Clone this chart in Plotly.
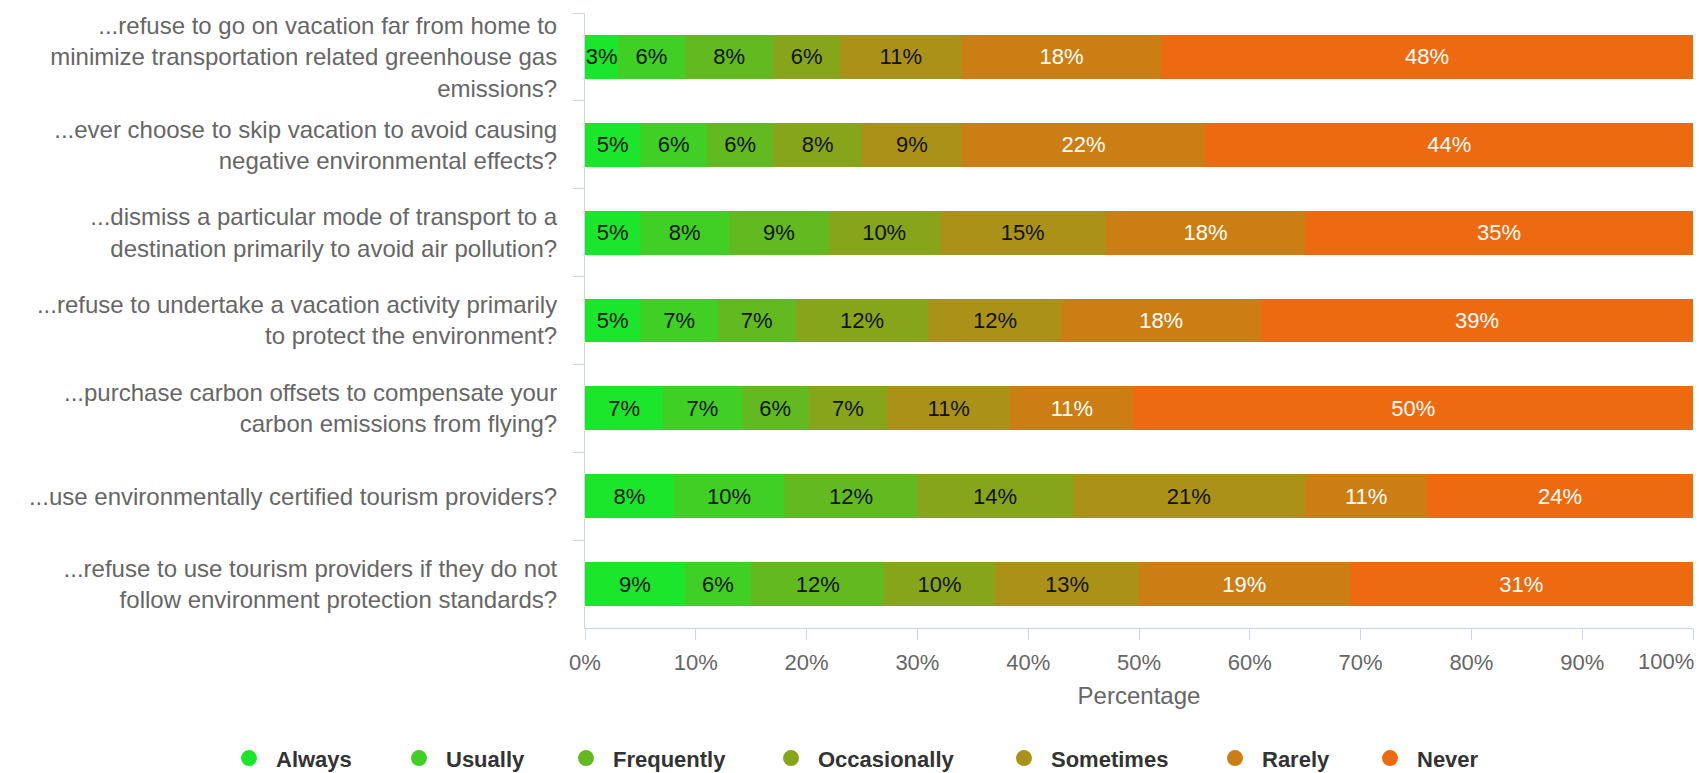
import plotly.graph_objects as go

# Survey questions (y categories, top to bottom)
questions = [
    "...refuse to go on vacation far from home to<br>minimize transportation related greenhouse gas<br>emissions?",
    "...ever choose to skip vacation to avoid causing<br>negative environmental effects?",
    "...dismiss a particular mode of transport to a<br>destination primarily to avoid air pollution?",
    "...refuse to undertake a vacation activity primarily<br>to protect the environment?",
    "...purchase carbon offsets to compensate your<br>carbon emissions from flying?",
    "...use environmentally certified tourism providers?",
    "...refuse to use tourism providers if they do not<br>follow environment protection standards?",
]

# Answer frequencies (percent of respondents)
always = [3, 5, 5, 5, 7, 8, 9]
usually = [6, 6, 8, 7, 7, 10, 6]
frequently = [8, 6, 9, 7, 6, 12, 12]
occasionally = [6, 8, 10, 12, 7, 14, 10]
sometimes = [11, 9, 15, 12, 11, 21, 13]
rarely = [18, 22, 18, 18, 11, 11, 19]
never = [48, 44, 35, 39, 50, 24, 31]

series_names = ["Always", "Usually", "Frequently", "Occasionally", "Sometimes", "Rarely", "Never"]
series_values = [always, usually, frequently, occasionally, sometimes, rarely, never]
series_colors = ["#1be62c", "#3fcf25", "#62b920", "#86a51b", "#a99217", "#ca7e13", "#ee6a10"]
label_colors = ["#111111", "#111111", "#111111", "#111111", "#111111", "#ffffff", "#ffffff"]

x_ticks = list(range(0, 101, 10))

FONT = "Liberation Sans, Arial, Helvetica, sans-serif"
W, H = 1699, 773

fig = go.Figure()

for name, vals, color, tcolor in zip(series_names, series_values, series_colors, label_colors):
    fig.add_trace(go.Bar(
        y=questions,
        x=vals,
        orientation="h",
        name=name,
        marker=dict(color=color, line=dict(width=0)),
        text=[f"{v}%" for v in vals],
        texttemplate="%{text}",
        textposition="inside",
        insidetextanchor="middle",
        textangle=0,
        constraintext="none",
        textfont=dict(family=FONT, size=22, color=tcolor),
        showlegend=False,
    ))

# One legend per series so the entries are spaced like a single row
legend_left = [222, 392, 559, 764, 997, 1208, 1363]
legend_layouts = {}
for i, (name, color) in enumerate(zip(series_names, series_colors)):
    key = "legend" if i == 0 else f"legend{i + 1}"
    fig.add_trace(go.Scatter(
        x=[None], y=[None], mode="markers", name=name,
        marker=dict(color=color, size=20, symbol="circle"),
        showlegend=True, legend=key,
    ))
    legend_layouts[key] = dict(
        orientation="h",
        xref="container", x=legend_left[i] / W, xanchor="left",
        yref="container", y=0.019, yanchor="middle",
        font=dict(family=FONT, size=22, color="#333333", weight="bold"),
        itemwidth=44,
        bgcolor="rgba(0,0,0,0)",
        borderwidth=0,
    )

fig.update_layout(
    width=W,
    height=H,
    autosize=False,
    barmode="stack",
    barnorm="percent",
    bargap=0.5,
    plot_bgcolor="white",
    paper_bgcolor="white",
    margin=dict(l=585, r=6, t=13, b=145),
    font=dict(family=FONT, color="#666666"),
    uniformtext=dict(minsize=22, mode="show"),
    xaxis=dict(
        range=[0, 100],
        tickvals=x_ticks,
        ticktext=[f"{t}%" if t < 100 else "" for t in x_ticks],
        showgrid=False,
        zeroline=False,
        showline=True,
        linecolor="#ccd6eb",
        linewidth=1,
        ticks="outside",
        ticklen=11,
        tickcolor="#ccd6eb",
        tickfont=dict(family=FONT, size=22, color="#666666"),
        ticklabelstandoff=4,
        title=dict(text="Percentage", font=dict(family=FONT, size=24, color="#666666"), standoff=12),
    ),
    yaxis=dict(
        autorange="reversed",
        showgrid=False,
        zeroline=False,
        showline=True,
        linecolor="#ccd6eb",
        linewidth=1,
        ticks="outside",
        tickson="boundaries",
        ticklen=11,
        tickcolor="#ccd6eb",
        tickfont=dict(family=FONT, size=24, color="#666666"),
        ticklabelstandoff=22,
    ),
    **legend_layouts,
)

# Last tick label kept inside the page
fig.add_annotation(
    x=100, xref="x", y=0, yref="paper",
    text="100%", showarrow=False,
    xanchor="right", yanchor="top", yshift=-19, xshift=3,
    font=dict(family=FONT, size=22, color="#666666"),
)

fig.write_html("out.html")
